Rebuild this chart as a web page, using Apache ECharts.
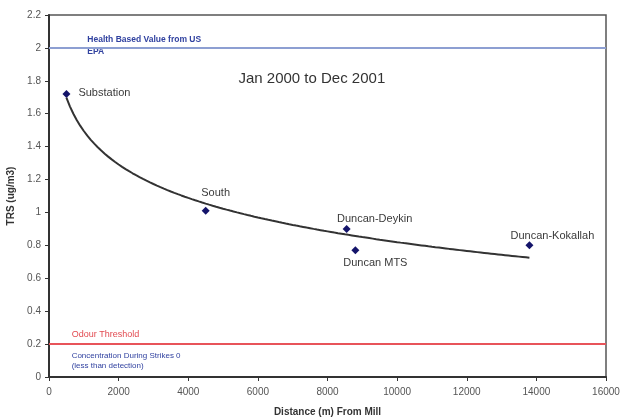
<!DOCTYPE html>
<html>
<head>
<meta charset="utf-8">
<script src="https://cdn.jsdelivr.net/npm/echarts@6/dist/echarts.min.js"></script>
<style>
  html, body { margin: 0; padding: 0; background: #ffffff; }
  #chart { width: 621px; height: 418px; }
</style>
</head>
<body>
<div id="chart"></div>
<script>
// Monitoring stations and their mean TRS concentrations, Jan 2000 - Dec 2001
const stations = ['Substation', 'South', 'Duncan-Deykin', 'Duncan MTS', 'Duncan-Kokallah'];
const distances = [500, 4500, 8550, 8800, 13800];   // metres from the mill
const trsValues = [1.72, 1.01, 0.90, 0.77, 0.80];     // ug/m3

// Reference levels
const healthBasedValue = 2.0;   // US EPA health based value
const odourThreshold = 0.2;

// Axis ticks
const xTicks = [0, 2000, 4000, 6000, 8000, 10000, 12000, 14000, 16000];
const yTicks = [0, 0.2, 0.4, 0.6, 0.8, 1, 1.2, 1.4, 1.6, 1.8, 2, 2.2];

const FONT = '"Liberation Sans", Arial, sans-serif';

// Logarithmic least-squares trend of the measured values: y = a + b ln(x)
const lnX = distances.map(Math.log);
const n = distances.length;
const mx = lnX.reduce((s, v) => s + v, 0) / n;
const my = trsValues.reduce((s, v) => s + v, 0) / n;
let sxy = 0, sxx = 0;
for (let i = 0; i < n; i++) {
  sxy += (lnX[i] - mx) * (trsValues[i] - my);
  sxx += (lnX[i] - mx) * (lnX[i] - mx);
}
const slope = sxy / sxx;
const intercept = my - slope * mx;
const xMin = Math.min(...distances), xMax = Math.max(...distances);
const trend = [];
for (let x = xMin; x <= xMax; x += 100) trend.push([x, intercept + slope * Math.log(x)]);

// Per-station label placement
const labelPlacement = {
  'Substation':      { position: 'right', distance: 8, offset: [0, -1] },
  'South':           { position: 'top', distance: 8, offset: [10, 0] },
  'Duncan-Deykin':   { position: 'top', distance: 0, offset: [28, 0] },
  'Duncan MTS':      { position: 'bottom', distance: 3, offset: [20, 0] },
  'Duncan-Kokallah': { position: 'top', distance: 0, offset: [23, 0] }
};

const stationData = stations.map((name, i) => ({
  name: name,
  value: [distances[i], trsValues[i]],
  label: Object.assign({ show: true, formatter: name }, labelPlacement[name])
}));

const chart = echarts.init(document.getElementById('chart'), null, { renderer: 'canvas' });

const option = {
  animation: false,
  backgroundColor: '#ffffff',
  textStyle: { fontFamily: FONT },
  grid: {
    left: 49, right: 15, top: 15, bottom: 41,
    outerBoundsMode: 'none',
    containLabel: false,
    show: true, borderColor: '#555555', borderWidth: 1.5, backgroundColor: 'transparent'
  },
  xAxis: {
    type: 'value',
    min: xTicks[0], max: xTicks[xTicks.length - 1], interval: 2000,
    name: 'Distance (m) From Mill',
    nameLocation: 'middle', nameGap: 30,
    nameTextStyle: { fontFamily: FONT, fontSize: 10, fontWeight: 'bold', color: '#333333' },
    axisLine: { show: true, lineStyle: { color: '#333333', width: 2 } },
    axisTick: { show: true, length: 4, lineStyle: { color: '#333333', width: 1 } },
    axisLabel: { fontFamily: FONT, fontSize: 10, color: '#555555', margin: 10, formatter: v => String(v) },
    splitLine: { show: false }
  },
  yAxis: {
    type: 'value',
    min: yTicks[0], max: yTicks[yTicks.length - 1], interval: 0.2,
    name: 'TRS (ug/m3)',
    nameLocation: 'middle', nameGap: 29, nameRotate: 90,
    nameTextStyle: { fontFamily: FONT, fontSize: 10, fontWeight: 'bold', color: '#333333' },
    axisLine: { show: true, lineStyle: { color: '#333333', width: 2 } },
    axisTick: { show: true, length: 4, lineStyle: { color: '#333333', width: 1 } },
    axisLabel: {
      fontFamily: FONT, fontSize: 10, color: '#555555', margin: 8,
      formatter: v => String(Math.round(v * 10) / 10)
    },
    splitLine: { show: false }
  },
  series: [
    {
      name: 'Trend',
      type: 'line',
      data: trend,
      showSymbol: false,
      symbol: 'none',
      lineStyle: { color: '#333333', width: 2 },
      silent: true,
      z: 2,
      markLine: {
        symbol: 'none',
        silent: true,
        label: { show: false },
        data: [
          { yAxis: healthBasedValue, lineStyle: { color: '#8d9fd2', width: 2, type: 'solid' } },
          { yAxis: odourThreshold, lineStyle: { color: '#e8545a', width: 2, type: 'solid' } }
        ]
      }
    },
    {
      name: 'Stations',
      type: 'scatter',
      data: stationData,
      symbol: 'diamond',
      symbolSize: 8,
      itemStyle: { color: '#14146a', opacity: 1 },
      label: { fontFamily: FONT, fontSize: 11, color: '#3a3a3a' },
      z: 3
    }
  ]
};

chart.setOption(option);

// Annotations anchored in data coordinates
function px(x, y) { return chart.convertToPixel({ gridIndex: 0 }, [x, y]); }
const epaPos = px(1100, healthBasedValue);
const odourPos = px(650, odourThreshold);
const strikePos = px(650, 0.1);
const titlePos = px(7550, 1.81);

chart.setOption({
  graphic: [
    {
      type: 'text', x: titlePos[0], y: titlePos[1],
      style: {
        text: 'Jan 2000 to Dec 2001',
        align: 'center', verticalAlign: 'middle',
        fill: '#333333', font: '15px ' + FONT
      }
    },
    {
      type: 'text', x: epaPos[0], y: epaPos[1] - 2,
      style: {
        text: 'Health Based Value from US\nEPA',
        align: 'left', verticalAlign: 'middle', lineHeight: 12,
        fill: '#3142a0', font: 'bold 8.5px ' + FONT
      }
    },
    {
      type: 'text', x: odourPos[0], y: odourPos[1] - 10,
      style: {
        text: 'Odour Threshold',
        align: 'left', verticalAlign: 'middle',
        fill: '#e24a50', font: '9px ' + FONT
      }
    },
    {
      type: 'text', x: strikePos[0], y: strikePos[1],
      style: {
        text: 'Concentration During Strikes 0\n(less than detection)',
        align: 'left', verticalAlign: 'middle', lineHeight: 10,
        fill: '#3142a0', font: '8px ' + FONT
      }
    }
  ]
});
</script>
</body>
</html>
